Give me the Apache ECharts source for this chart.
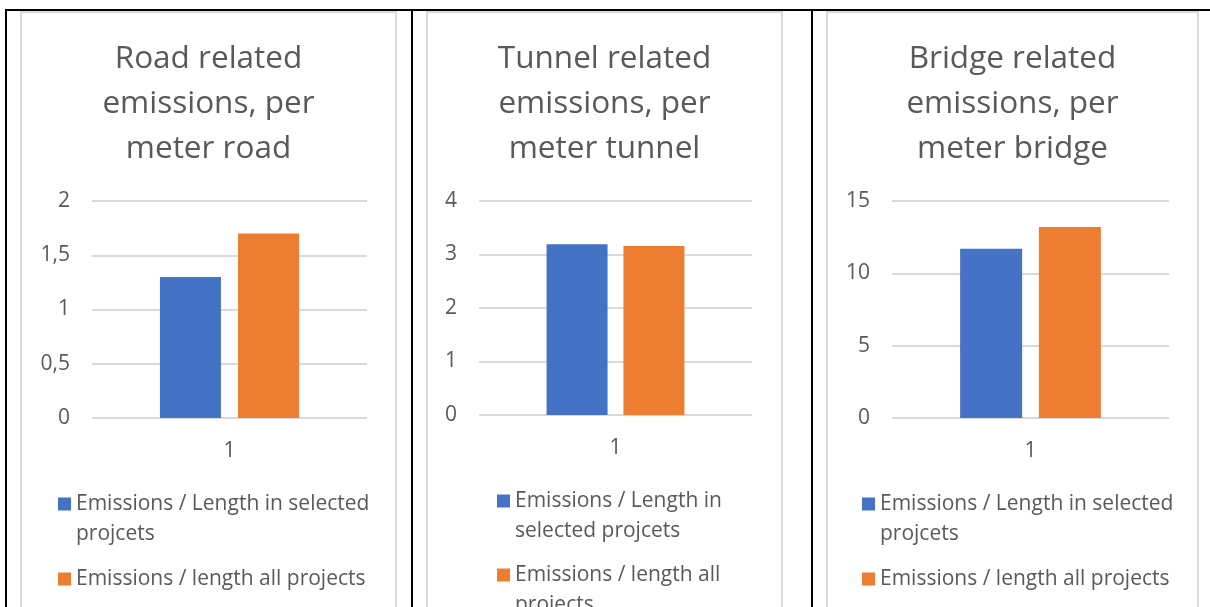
<!DOCTYPE html>
<html>
<head>
<meta charset="utf-8">
<script src="https://cdn.jsdelivr.net/npm/echarts@6/dist/echarts.min.js"></script>
<style>
  html, body { margin: 0; padding: 0; background: #fff; width: 1210px; height: 607px; overflow: hidden; position: relative; }
  .rule { position: absolute; background: #000; z-index: 2; }
  .box { position: absolute; top: 11px; height: 620px; border: 2px solid #d9d9d9; border-bottom: none; }
  .chart { width: 100%; height: 100%; }
</style>
</head>
<body>
<div class="rule" style="left:5px;top:9px;width:1205px;height:2px"></div>
<div class="rule" style="left:5px;top:9px;width:2px;height:600px"></div>
<div class="rule" style="left:411px;top:9px;width:2px;height:600px"></div>
<div class="rule" style="left:811px;top:9px;width:2px;height:600px"></div>

<div class="box" style="left:20px;width:373px"><div id="road" class="chart"></div></div>
<div class="box" style="left:426px;width:353px"><div id="tunnel" class="chart"></div></div>
<div class="box" style="left:826px;width:369px"><div id="bridge" class="chart"></div></div>

<script>
// Shared category and series names
const categories = ['1'];
const seriesNames = ['Emissions / Length in selected projcets', 'Emissions / length all projects'];
const seriesColors = ['#4472C4', '#ED7D31'];

// Values per chart: [selected projects, all projects]
const roadValues = [1.3, 1.7];
const tunnelValues = [3.19, 3.16];
const bridgeValues = [11.7, 13.2];

// Value-axis ticks per chart
const roadTicks = [0, 0.5, 1, 1.5, 2];
const tunnelTicks = [0, 1, 2, 3, 4];
const bridgeTicks = [0, 5, 10, 15];

// Titles
const roadTitle = 'Road related\nemissions, per\nmeter road';
const tunnelTitle = 'Tunnel related\nemissions, per\nmeter tunnel';
const bridgeTitle = 'Bridge related\nemissions, per\nmeter bridge';

// Legend texts as wrapped in each chart
const roadLegend = ['Emissions / Length in selected\nprojcets', 'Emissions / length all projects'];
const tunnelLegend = ['Emissions / Length in\nselected projcets', 'Emissions / length all\nprojects'];
const bridgeLegend = ['Emissions / Length in selected\nprojcets', 'Emissions / length all projects'];

const FONT = 'Open Sans';
const TEXT = '#595959';
const GRID_LINE = '#d9d9d9';

function legendItem(name, text, left, top) {
  // multi-line entries get a blank leading line so the marker sits beside the first line
  const label = text.indexOf('\n') >= 0 ? '\n' + text : text;
  return {
    data: [name],
    orient: 'vertical',
    left: left,
    top: top,
    padding: 0,
    icon: 'rect',
    itemWidth: 13,
    itemHeight: 13,
    selectedMode: false,
    formatter: function () { return label; },
    textStyle: { fontFamily: FONT, fontSize: 21, lineHeight: 30, color: TEXT }
  };
}

function buildChart(id, p) {
  const chart = echarts.init(document.getElementById(id), null, { renderer: 'canvas' });
  const ticks = p.ticks;
  chart.setOption({
    animation: false,
    backgroundColor: '#fff',
    title: {
      text: p.title,
      left: 'center',
      top: p.titleTop,
      padding: 0,
      textStyle: { fontFamily: FONT, fontSize: 31.5, lineHeight: 45, fontWeight: 'normal', color: TEXT }
    },
    legend: [
      legendItem(seriesNames[0], p.legend[0], p.legendLeft, p.legendTops[0]),
      legendItem(seriesNames[1], p.legend[1], p.legendLeft, p.legendTops[1])
    ],
    grid: { left: p.grid[0], top: p.grid[1], width: p.grid[2], height: p.grid[3], containLabel: false },
    xAxis: {
      type: 'category',
      data: categories,
      axisLine: { show: false },
      axisTick: { show: false },
      axisLabel: { margin: 23, fontFamily: FONT, fontSize: 21, color: TEXT }
    },
    yAxis: {
      type: 'value',
      min: ticks[0],
      max: ticks[ticks.length - 1],
      interval: ticks[1] - ticks[0],
      axisLine: { show: false },
      axisTick: { show: false },
      splitLine: { show: true, lineStyle: { color: GRID_LINE, width: 2 } },
      axisLabel: {
        margin: 22,
        fontFamily: FONT,
        fontSize: 21,
        color: TEXT,
        formatter: function (v) { return String(v).replace('.', ','); }
      }
    },
    series: seriesNames.map(function (name, i) {
      return {
        name: name,
        type: 'bar',
        data: [p.values[i]],
        barWidth: p.barWidth,
        barGap: p.barGap,
        itemStyle: { color: seriesColors[i] }
      };
    })
  });
}

buildChart('road', {
  title: roadTitle, titleTop: 24, values: roadValues, ticks: roadTicks, legend: roadLegend,
  grid: [70, 188, 275, 217], barWidth: 61, barGap: '28%',
  legendLeft: 36, legendTops: [446, 551]
});
buildChart('tunnel', {
  title: tunnelTitle, titleTop: 24, values: tunnelValues, ticks: tunnelTicks, legend: tunnelLegend,
  grid: [51, 188, 273, 214], barWidth: 61, barGap: '26%',
  legendLeft: 69, legendTops: [443, 517]
});
buildChart('bridge', {
  title: bridgeTitle, titleTop: 24, values: bridgeValues, ticks: bridgeTicks, legend: bridgeLegend,
  grid: [64, 188, 277, 217], barWidth: 62, barGap: '27%',
  legendLeft: 34, legendTops: [446, 551]
});
</script>
</body>
</html>
